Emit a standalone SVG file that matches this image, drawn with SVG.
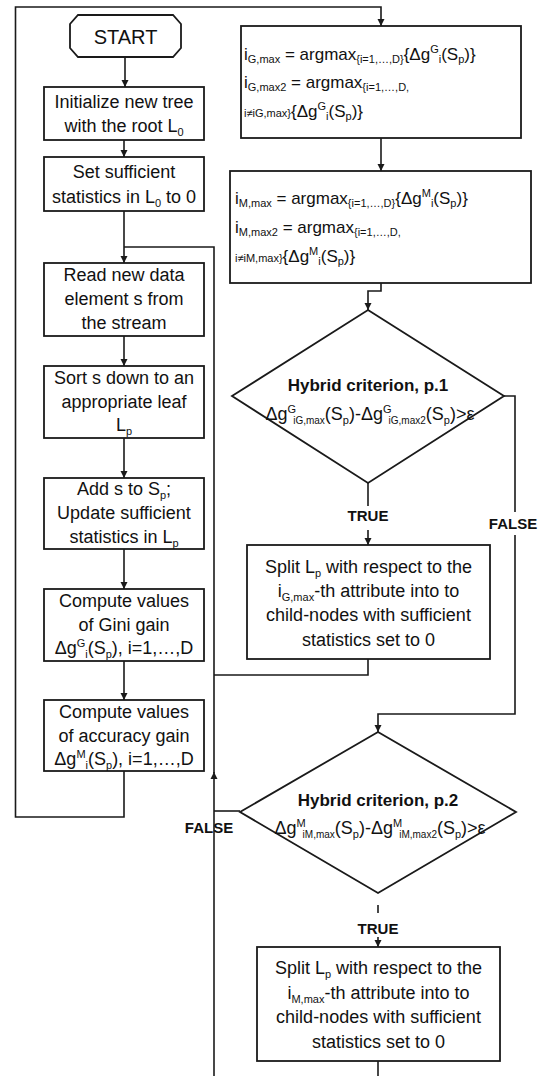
<svg xmlns="http://www.w3.org/2000/svg" width="541" height="1076" viewBox="0 0 541 1076">
<style>
.bg{fill:#fff}
.box{fill:#fff;stroke:#1a1a1a;stroke-width:1.8}
.ln{fill:none;stroke:#1a1a1a;stroke-width:1.6}
.t{font-family:"Liberation Sans",Arial,sans-serif;font-size:18px;fill:#111}
.c{text-anchor:middle}
.b{font-weight:bold}
.s{font-size:11px}
.f{font-size:17px}
.ss{font-size:10px}
.lab{font-family:"Liberation Sans",Arial,sans-serif;font-weight:bold;font-size:15px;fill:#111;text-anchor:middle}
</style>
<defs>
<marker id="ar" markerWidth="8" markerHeight="8" refX="7" refY="4" orient="auto" markerUnits="userSpaceOnUse">
<path d="M0,0.5 L7,4 L0,7.5 z" fill="#1a1a1a"/>
</marker>
</defs>
<rect class="bg" x="0" y="0" width="541" height="1076"/>

<g id="connectors">
<path class="ln" d="M125,57 V87" marker-end="url(#ar)"/>
<path class="ln" d="M124,140 V157" marker-end="url(#ar)"/>
<path class="ln" d="M124,211 V263" marker-end="url(#ar)"/>
<path class="ln" d="M124,336 V366" marker-end="url(#ar)"/>
<path class="ln" d="M124,438 V478" marker-end="url(#ar)"/>
<path class="ln" d="M124,549 V589" marker-end="url(#ar)"/>
<path class="ln" d="M124,661 V700" marker-end="url(#ar)"/>
<path class="ln" d="M124,771 V817 H15.5 V7 H381 V26" marker-end="url(#ar)"/>
<path class="ln" d="M381,138 V171" marker-end="url(#ar)"/>
<path class="ln" d="M381,283 V291 H368 V310" marker-end="url(#ar)"/>
<path class="ln" d="M368,483 V506"/>
<path class="ln" d="M368,530 V545" marker-end="url(#ar)"/>
<path class="ln" d="M504,396 H515 V512"/>
<path class="ln" d="M515,535 V714 H378 V732" marker-end="url(#ar)"/>
<path class="ln" d="M368,659 V675 H214"/>
<path class="ln" d="M214,1076 V772" marker-end="url(#ar)"/>
<path class="ln" d="M214,773 V247 H124"/>
<path class="ln" d="M240,811 H214"/>
<path class="ln" d="M378,905 V913"/>
<path class="ln" d="M378,937 V947" marker-end="url(#ar)"/>
<path class="ln" d="M378,1061 V1076"/>
<text class="lab" x="368" y="521">TRUE</text>
<text class="lab" x="513" y="529">FALSE</text>
<text class="lab" x="209" y="833">FALSE</text>
<text class="lab" x="378" y="934">TRUE</text>
</g>

<g id="start">
<polygon class="box" points="78,15 173,15 181,24 181,48 173,57 78,57 70,48 70,24"/>
<text class="t c" x="125.5" y="44" style="font-size:20px">START</text>
</g>

<g id="init">
<rect class="box" x="44" y="87" width="160" height="53"/>
<text class="t c" x="124" y="108">Initialize new tree</text>
<text class="t c" x="124" y="132"><tspan>with the root L</tspan><tspan class="s" dy="4">0</tspan></text>
</g>

<g id="setstats">
<rect class="box" x="44" y="157" width="160" height="54"/>
<text class="t c" x="124" y="178">Set sufficient</text>
<text class="t c" x="124" y="203"><tspan>statistics in L</tspan><tspan class="s" dy="4">0</tspan><tspan dy="-4"> to 0</tspan></text>
</g>

<g id="read">
<rect class="box" x="44" y="263" width="160" height="73"/>
<text class="t c" x="124" y="281">Read new data</text>
<text class="t c" x="124" y="305">element s from</text>
<text class="t c" x="124" y="329">the stream</text>
</g>

<g id="sort">
<rect class="box" x="44" y="366" width="160" height="72"/>
<text class="t c" x="124" y="384">Sort s down to an</text>
<text class="t c" x="124" y="408">appropriate leaf</text>
<text class="t c" x="124" y="431"><tspan>L</tspan><tspan class="s" dy="4">p</tspan></text>
</g>

<g id="add">
<rect class="box" x="44" y="478" width="160" height="71"/>
<text class="t c" x="124" y="495"><tspan>Add s to S</tspan><tspan class="s" dy="4">p</tspan><tspan dy="-4">;</tspan></text>
<text class="t c" x="124" y="519">Update sufficient</text>
<text class="t c" x="124" y="543"><tspan>statistics in L</tspan><tspan class="s" dy="4">p</tspan></text>
</g>

<g id="gini">
<rect class="box" x="44" y="589" width="160" height="72"/>
<text class="t c" x="124" y="607">Compute values</text>
<text class="t c" x="124" y="631">of Gini gain</text>
<text class="t c" x="124" y="654"><tspan>Δg</tspan><tspan class="s" dy="-7">G</tspan><tspan class="s" dy="11">i</tspan><tspan dy="-4">(S</tspan><tspan class="s" dy="4">p</tspan><tspan dy="-4">), i=1,…,D</tspan></text>
</g>

<g id="accuracy">
<rect class="box" x="44" y="700" width="160" height="71"/>
<text class="t c" x="124" y="718">Compute values</text>
<text class="t c" x="124" y="742">of accuracy gain</text>
<text class="t c" x="124" y="765"><tspan>Δg</tspan><tspan class="s" dy="-7">M</tspan><tspan class="s" dy="11">i</tspan><tspan dy="-4">(S</tspan><tspan class="s" dy="4">p</tspan><tspan dy="-4">), i=1,…,D</tspan></text>
</g>

<g id="argmaxG">
<rect class="box" x="241" y="26" width="280" height="112"/>
<text class="t f" x="244" y="60"><tspan>i</tspan><tspan class="s" dy="3">G,max</tspan><tspan dy="-3"> = argmax</tspan><tspan class="s" dy="3">{i=1,…,D}</tspan><tspan dy="-3">{Δg</tspan><tspan class="s" dy="-7">G</tspan><tspan class="s" dy="10">i</tspan><tspan dy="-3">(S</tspan><tspan class="s" dy="3">p</tspan><tspan dy="-3">)}</tspan></text>
<text class="t f" x="244" y="88"><tspan>i</tspan><tspan class="s" dy="3">G,max2</tspan><tspan dy="-3"> = argmax</tspan><tspan class="s" dy="3">{i=1,…,D,</tspan></text>
<text class="t f" x="244" y="117"><tspan class="s">i≠iG,max}</tspan><tspan>{Δg</tspan><tspan class="s" dy="-7">G</tspan><tspan class="s" dy="10">i</tspan><tspan dy="-3">(S</tspan><tspan class="s" dy="3">p</tspan><tspan dy="-3">)}</tspan></text>
</g>

<g id="argmaxM">
<rect class="box" x="230" y="171" width="301" height="112"/>
<text class="t f" x="235" y="204"><tspan>i</tspan><tspan class="s" dy="3">M,max</tspan><tspan dy="-3"> = argmax</tspan><tspan class="s" dy="3">{i=1,…,D}</tspan><tspan dy="-3">{Δg</tspan><tspan class="s" dy="-7">M</tspan><tspan class="s" dy="10">i</tspan><tspan dy="-3">(S</tspan><tspan class="s" dy="3">p</tspan><tspan dy="-3">)}</tspan></text>
<text class="t f" x="235" y="233"><tspan>i</tspan><tspan class="s" dy="3">M,max2</tspan><tspan dy="-3"> = argmax</tspan><tspan class="s" dy="3">{i=1,…,D,</tspan></text>
<text class="t f" x="235" y="262"><tspan class="s">i≠iM,max}</tspan><tspan>{Δg</tspan><tspan class="s" dy="-7">M</tspan><tspan class="s" dy="10">i</tspan><tspan dy="-3">(S</tspan><tspan class="s" dy="3">p</tspan><tspan dy="-3">)}</tspan></text>
</g>

<g id="hybrid1">
<polygon class="box" points="368,310 504,396 368,483 232,396"/>
<text class="t c b" x="368" y="391" style="font-size:17px">Hybrid criterion, p.1</text>
<text class="t c" x="370" y="420"><tspan>Δg</tspan><tspan class="s" dy="-7">G</tspan><tspan class="ss" dx="-3" dy="11">iG,max</tspan><tspan dy="-4">(S</tspan><tspan class="s" dy="4">p</tspan><tspan dy="-4">)-Δg</tspan><tspan class="s" dy="-7">G</tspan><tspan class="ss" dx="-3" dy="11">iG,max2</tspan><tspan dy="-4">(S</tspan><tspan class="s" dy="4">p</tspan><tspan dy="-4">)&gt;ε</tspan></text>
</g>

<g id="split1">
<rect class="box" x="247" y="545" width="243" height="114"/>
<text class="t c" x="368.5" y="573"><tspan>Split L</tspan><tspan class="s" dy="4">p</tspan><tspan dy="-4"> with respect to the</tspan></text>
<text class="t c" x="368.5" y="597"><tspan>i</tspan><tspan class="s" dy="4">G,max</tspan><tspan dy="-4">-th attribute into to</tspan></text>
<text class="t c" x="368.5" y="621">child-nodes with sufficient</text>
<text class="t c" x="368.5" y="646">statistics set to 0</text>
</g>

<g id="hybrid2">
<polygon class="box" points="378,732 516,812 378,893 240,812"/>
<text class="t c b" x="378" y="806" style="font-size:17px">Hybrid criterion, p.2</text>
<text class="t c" x="380" y="834"><tspan>Δg</tspan><tspan class="s" dy="-7">M</tspan><tspan class="ss" dx="-3" dy="11">iM,max</tspan><tspan dy="-4">(S</tspan><tspan class="s" dy="4">p</tspan><tspan dy="-4">)-Δg</tspan><tspan class="s" dy="-7">M</tspan><tspan class="ss" dx="-3" dy="11">iM,max2</tspan><tspan dy="-4">(S</tspan><tspan class="s" dy="4">p</tspan><tspan dy="-4">)&gt;ε</tspan></text>
</g>

<g id="split2">
<rect class="box" x="257" y="947" width="243" height="114"/>
<text class="t c" x="378.5" y="974"><tspan>Split L</tspan><tspan class="s" dy="4">p</tspan><tspan dy="-4"> with respect to the</tspan></text>
<text class="t c" x="378.5" y="999"><tspan>i</tspan><tspan class="s" dy="4">M,max</tspan><tspan dy="-4">-th attribute into to</tspan></text>
<text class="t c" x="378.5" y="1023">child-nodes with sufficient</text>
<text class="t c" x="378.5" y="1048">statistics set to 0</text>
</g>
</svg>
